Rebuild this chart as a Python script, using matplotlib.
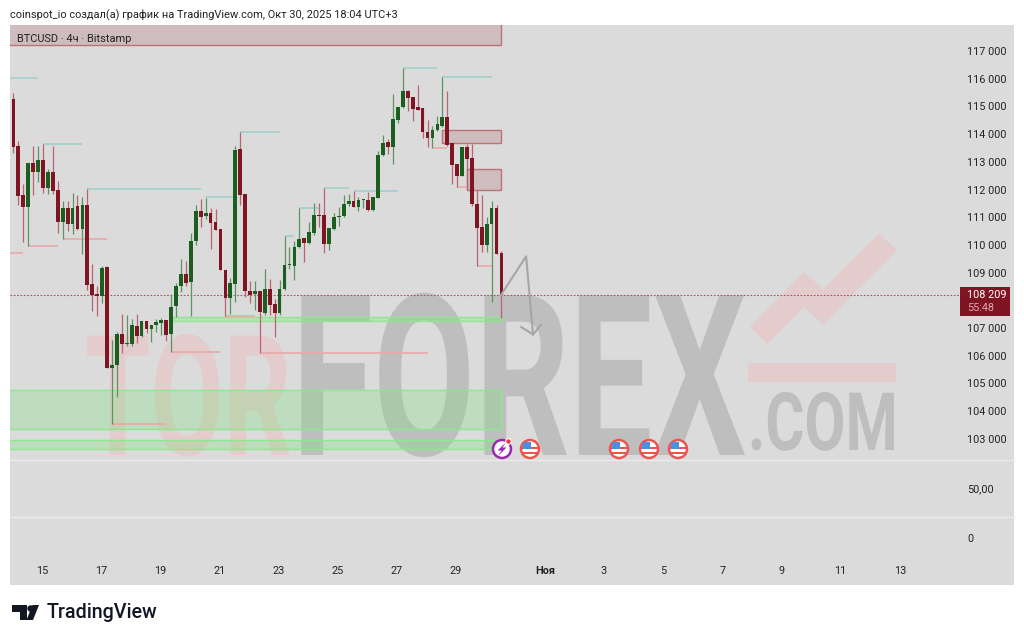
import numpy as np
import matplotlib
matplotlib.use('Agg')
import matplotlib.pyplot as plt
from matplotlib.patches import Rectangle, Polygon, Circle
from matplotlib.patheffects import AbstractPathEffect
from matplotlib.transforms import Affine2D, Bbox

plt.rcParams['font.family'] = ['Roboto', 'DejaVu Sans']

# свечи BTCUSD 4ч
opens = [115850, 115260, 113570, 111800, 111370, 112960, 112630, 113070, 112060, 112630,
         111980, 110830, 111330, 110760, 111410, 110580, 111440, 108590, 108230, 108160,
         109200, 105560, 105670, 106790, 106430, 106430, 107080, 106710, 107260, 106970,
         107110, 107180, 107290, 106790, 107800, 108520, 108950, 108660, 110140, 111230,
         111050, 111150, 110830, 110580, 109100, 108090, 108590, 113460, 111840, 108340,
         108230, 108340, 107540, 108410, 107870, 107540, 108410, 109280, 109240, 109930,
         110250, 110070, 110430, 111080, 111080, 110040, 110580, 111010, 111050, 111480,
         111590, 111370, 111620, 111620, 111260, 111700, 113250, 113720, 113540, 114510,
         114980, 115560, 115340, 114980, 114940, 114080, 113860, 114150, 114290, 114620,
         113680, 112920, 112490, 113540, 113140, 111480, 110650, 110000, 110760, 111330,
         109710]
highs = [115850, 115500, 113750, 112200, 112960, 113570, 113570, 113640, 112740, 113570,
         112310, 111590, 111590, 111880, 111800, 111730, 112020, 109310, 108520, 109240,
         109240, 106570, 106860, 107510, 107470, 107330, 107510, 107260, 107260, 107110,
         107330, 107360, 107290, 108230, 108630, 109490, 109420, 110430, 111440, 111660,
         111700, 111330, 111300, 110580, 109100, 108810, 113570, 114080, 111840, 108700,
         108700, 108340, 109130, 108770, 108050, 108740, 110320, 109930, 110140, 111330,
         110250, 110830, 111510, 111510, 112060, 110610, 111150, 111370, 111800, 111840,
         111950, 111730, 111660, 111910, 111730, 113390, 113970, 113820, 115450, 114980,
         116390, 115590, 115340, 115770, 114940, 114510, 114290, 114650, 116060, 115560,
         113680, 112920, 113540, 113640, 113640, 111980, 111800, 111010, 111590, 111440,
         109780]
lows = [115230, 113330, 111440, 110110, 109960, 111800, 112270, 111880, 111840, 111840,
        110430, 110220, 110500, 110400, 110540, 109670, 108370, 107620, 107440, 107910,
        105560, 103540, 104510, 106100, 106350, 106350, 106460, 106680, 106820, 106500,
        106860, 106750, 106530, 106140, 107400, 108300, 108520, 107440, 110000, 110650,
        110940, 109850, 110540, 109100, 107440, 107510, 107940, 111440, 108120, 107910,
        107650, 106100, 107470, 107470, 106680, 107470, 108370, 109130, 108740, 109890,
        109390, 110040, 110360, 110650, 109710, 109820, 110540, 110680, 111010, 111410,
        111370, 111230, 111330, 111230, 111230, 111700, 113210, 113280, 112920, 114400,
        114940, 114840, 114470, 114870, 113860, 113540, 113500, 114110, 114260, 113570,
        112200, 112090, 112490, 111980, 111410, 109240, 109750, 109750, 107940, 109670,
        107360]
closes = [115230, 113530, 111770, 111370, 112960, 112630, 113070, 112060, 112630, 111950,
          110830, 111330, 110760, 111330, 110580, 111440, 108550, 108190, 108160, 109170,
          105560, 105670, 106790, 106430, 106460, 107110, 106710, 107260, 106970, 107110,
          107220, 107290, 106750, 107760, 108520, 108950, 108630, 110140, 111230, 111010,
          111150, 110790, 110540, 109100, 108090, 108630, 113430, 111800, 108340, 108190,
          108340, 107580, 108410, 107830, 107540, 108410, 109280, 109310, 109930, 110220,
          110070, 110470, 111080, 111050, 110040, 110610, 111010, 111050, 111480, 111590,
          111370, 111620, 111660, 111260, 111730, 113250, 113680, 113540, 114550, 114980,
          115560, 115300, 114910, 114870, 114080, 113860, 114150, 114370, 114620, 113610,
          112890, 112490, 113540, 113100, 111480, 110610, 110000, 110760, 111330, 109670,
          108209]

price_ticks = list(range(103000, 118000, 1000))
last_price = 108209

day_ticks = [6, 18, 30, 42, 54, 66, 78, 90, 108, 120, 132, 144, 156, 168, 180]
day_labels = ['15', '17', '19', '21', '23', '25', '27', '29', 'Ноя', '3', '5', '7', '9', '11', '13']

# уровни: цена, начало, конец (в номерах свечей)
teal_price = [116026, 113644, 112020, 111713, 114077, 111334, 110323, 112056, 111947, 116386, 116062]
teal_start = [-0.7, 6, 15, 39, 46, 58, 55, 63, 69, 79, 87]
teal_end = [5, 14, 38, 45, 54, 62, 57, 68, 78, 86, 97]

pink_price = [109710, 109962, 110215, 103539, 106137, 107436, 106101, 109241, 112092, 113482]
pink_start = [-0.7, 3, 10, 20, 32, 43, 50, 94, 90, 85]
pink_end = [2, 9, 19, 31, 42, 49, 84, 97, 92, 88]

# зоны
red_top = [118200, 114150, 112741]
red_bottom = [117217, 113680, 111984]
red_start = [-2, 87, 92]
red_end = [99, 99, 99]

green_top = [107400, 104765, 102961]
green_bottom = [107256, 103358, 102636]
green_start = [32, -2, -2]
green_end = [99, 99, 99]

arrow_idx = [98.9, 104, 105.4]
arrow_price = [108194, 109590, 106770]

BG = '#DBDBDB'
RED = '#7F1423'
GREEN = '#1A5E20'
INK = '#232323'


class Squeeze(AbstractPathEffect):
    # сжимает буквы по горизонтали, текст остается текстом
    def __init__(self, sx):
        super().__init__()
        self.sx = sx

    def draw_path(self, renderer, gc, tpath, affine, rgbFace=None):
        renderer.draw_path(gc, tpath, Affine2D().scale(self.sx, 1) + affine, rgbFace)


def watermark(axes, x, y, s, size, color, sx):
    t = axes.text(x, y, s, color=color, fontsize=size, fontweight='bold', va='baseline',
                  path_effects=[Squeeze(sx)])
    full = t.get_window_extent

    # рамка должна совпадать со сжатыми буквами
    def extent(renderer=None, dpi=None):
        b = full(renderer, dpi)
        return Bbox.from_extents(b.x0, b.y0, b.x0 + b.width * sx, b.y1)

    t.get_window_extent = extent
    return t


def box(x0, y0, x1, y1):
    return [x0 / 1024, 1 - y1 / 640, (x1 - x0) / 1024, (y1 - y0) / 640]


fig = plt.figure(figsize=(10.24, 6.4), dpi=100, facecolor='white')

# фон и водяной знак
bg = fig.add_axes([0, 0, 1, 1], zorder=-1)
bg.set_xlim(0, 1024)
bg.set_ylim(640, 0)
bg.set_axis_off()
bg.add_patch(Rectangle((10, 25), 1004, 559.5, color=BG, lw=0))
bg.plot([10, 1014], [460, 460], color='#EBEBEB', lw=1)
bg.plot([10, 1014], [517, 517], color='#EBEBEB', lw=1)

wm_gray = '#BEBEBE'
wm_red = '#E4CCCC'
watermark(bg, 85, 455, 'TOR', 121, wm_red, 0.63)
watermark(bg, 292, 455, 'FOREX', 162, wm_gray, 0.657)
watermark(bg, 748, 450, '.COM', 58, wm_gray, 0.74)
bg.add_patch(Polygon([(750, 327), (804, 272), (823, 289), (879, 234), (897, 250),
                      (823, 325), (804, 307), (767, 344)], color=wm_red, lw=0))
bg.add_patch(Rectangle((748, 363), 148, 19, color=wm_red, lw=0))

# шапка
bg.text(10, 15, 'coinspot_io создал(а) график на TradingView.com, Окт 30, 2025 18:04 UTC+3',
        fontsize=7.9, color=INK, va='center')

# логотип
LOGO = '#131722'
bg.add_patch(Polygon([(12, 605), (27, 605), (27, 620), (20, 620), (20, 612), (12, 612)], color=LOGO, lw=0))
bg.add_patch(Circle((30.5, 608.5), 3.2, color=LOGO, lw=0))
bg.add_patch(Polygon([(39, 605), (33, 620), (26.5, 620), (32.5, 605)], color=LOGO, lw=0))
bg.text(47, 612, 'TradingView', fontsize=14.2, fontweight='medium', color=LOGO, va='center')

# основной график
x_left = (10 - 13.4) / 4.93
x_right = (960 - 13.4) / 4.93
ax = fig.add_axes(box(10, 25, 960, 460), facecolor='none')
pos = np.arange(len(opens)) - 1
o = np.array(opens)
h = np.array(highs)
l = np.array(lows)
c = np.array(closes)
up = c >= o

for i in range(len(red_top)):
    ax.add_patch(Rectangle((red_start[i], red_bottom[i]), red_end[i] - red_start[i],
                           red_top[i] - red_bottom[i], facecolor='#A8505A', alpha=0.22,
                           edgecolor='none', zorder=1))
    ax.add_patch(Rectangle((red_start[i], red_bottom[i]), red_end[i] - red_start[i],
                           red_top[i] - red_bottom[i], fill=False, edgecolor='#BC7176',
                           lw=1, zorder=1))
for i in range(len(green_top)):
    ax.add_patch(Rectangle((green_start[i], green_bottom[i]), green_end[i] - green_start[i],
                           green_top[i] - green_bottom[i], facecolor='#7CE07C', alpha=0.3,
                           edgecolor='none', zorder=1))
    ax.add_patch(Rectangle((green_start[i], green_bottom[i]), green_end[i] - green_start[i],
                           green_top[i] - green_bottom[i], fill=False, edgecolor='#8DE88D',
                           lw=1, zorder=1))

ax.hlines(teal_price, teal_start, teal_end, color='#A2D0CA', lw=1.2, zorder=2)
ax.hlines(pink_price, pink_start, pink_end, color='#E8A9A9', lw=1.2, zorder=2)
ax.axhline(last_price, color='#B0505E', lw=0.8, ls=(0, (1.5, 1.5)), zorder=2)

ax.vlines(pos[up], l[up], h[up], color='#5B9463', lw=0.9, zorder=3)
ax.vlines(pos[~up], l[~up], h[~up], color='#BC6371', lw=0.9, zorder=3)
ax.bar(pos[up], c[up] - o[up], bottom=o[up], width=0.76, color=GREEN, lw=0, zorder=4)
ax.bar(pos[~up], o[~up] - c[~up], bottom=c[~up], width=0.76, color=RED, lw=0, zorder=4)

ax.plot(arrow_idx, arrow_price, color='#A6A6A6', lw=1.5, zorder=5)
ax.plot([103, 105.4, 107], [107040, 106770, 107110], color='#A6A6A6', lw=1.5, zorder=5)

ax.set_xlim(x_left, x_right)
ax.set_ylim(102239, 117938)
ax.set_xticks([])
ax.yaxis.tick_right()
ax.set_yticks(price_ticks)
ax.set_yticklabels([f'{p:,}'.replace(',', ' ') for p in price_ticks])
ax.tick_params(axis='y', length=0, pad=5, labelsize=7.8, labelcolor=INK)
for s in ax.spines.values():
    s.set_visible(False)

# нижние панели
ax2 = fig.add_axes(box(10, 460, 960, 517), facecolor='none')
ax2.set_xlim(x_left, x_right)
ax2.set_ylim(0, 100)
ax2.set_xticks([])
ax2.yaxis.tick_right()
ax2.set_yticks([50])
ax2.set_yticklabels(['50,00'])
ax2.tick_params(axis='y', length=0, pad=5, labelsize=7.8, labelcolor=INK)

ax3 = fig.add_axes(box(10, 517, 960, 558), facecolor='none')
ax3.set_xlim(x_left, x_right)
ax3.set_ylim(-1, 1)
ax3.yaxis.tick_right()
ax3.set_yticks([0])
ax3.set_yticklabels(['0'])
ax3.set_xticks(np.array(day_ticks) - 0.2)
ax3.set_xticklabels(day_labels)
ax3.tick_params(axis='y', length=0, pad=5, labelsize=7.8, labelcolor=INK)
ax3.tick_params(axis='x', length=0, pad=6, labelsize=7.8, labelcolor=INK)
ax3.get_xticklabels()[day_labels.index('Ноя')].set_fontweight('bold')
for a in (ax2, ax3):
    for s in a.spines.values():
        s.set_visible(False)

# верхний слой: подпись, значки, плашка цены
top = fig.add_axes([0, 0, 1, 1], zorder=10, facecolor='none')
top.set_xlim(0, 1024)
top.set_ylim(640, 0)
top.set_axis_off()
top.text(17, 39, 'BTCUSD · 4ч · Bitstamp', fontsize=7.9, color=INK, va='center')

top.add_patch(Rectangle((960, 287), 50, 29, color=RED, lw=0, zorder=5))
top.text(967, 295, f'{last_price:,}'.replace(',', ' '), fontsize=7.8, color='white', va='center', zorder=6)
top.text(967, 308, '55:48', fontsize=7.8, color='#DDA9B0', va='center', zorder=6)

for fx in [530, 619, 649, 678]:
    ring = Circle((fx, 449), 9, facecolor='white', edgecolor='#EF5350', lw=1.8)
    top.add_patch(ring)
    for y0 in [446.5, 452]:
        st = Rectangle((fx - 8, y0), 16, 2.4, color='#EF5350', lw=0)
        top.add_patch(st)
        st.set_clip_path(ring)
    flag = Rectangle((fx - 7, 441.5), 8, 7.5, color='#4A90E2', lw=0)
    top.add_patch(flag)
    flag.set_clip_path(ring)

top.add_patch(Circle((502, 449), 9, facecolor='white', edgecolor='#9C27B0', lw=1.8))
top.add_patch(Polygon([(506, 442.5), (497.5, 450.5), (501.5, 450.5), (498, 456), (506.5, 447.5), (502.5, 447.5)],
                      color='#9C27B0', lw=0))
top.add_patch(Circle((508.5, 441.5), 2.8, facecolor='#F23645', edgecolor='white', lw=0.8))

fig.savefig('out.png', dpi=100, facecolor='white')
